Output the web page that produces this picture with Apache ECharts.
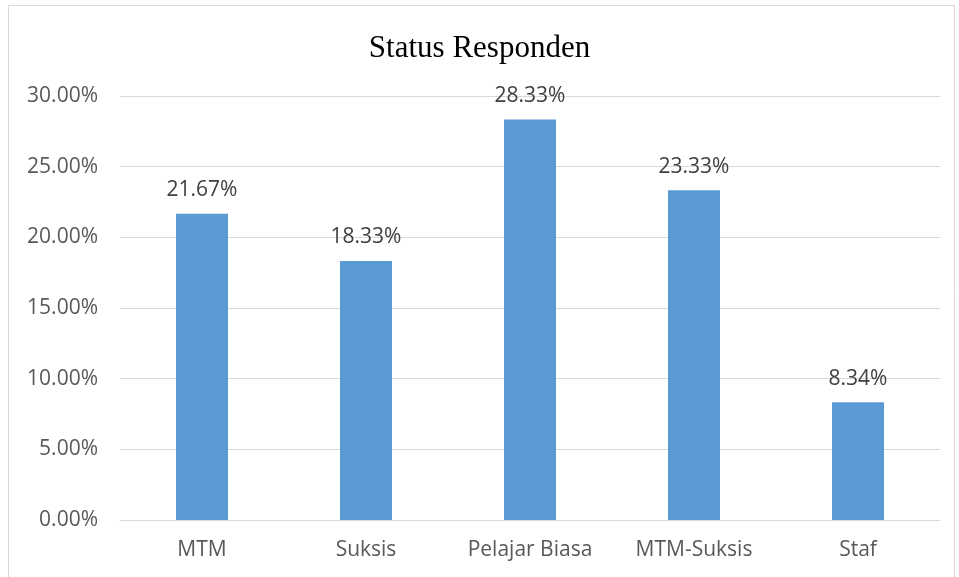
<!DOCTYPE html>
<html>
<head>
<meta charset="utf-8">
<script src="https://cdn.jsdelivr.net/npm/echarts@6/dist/echarts.min.js"></script>
<style>
  html, body { margin: 0; padding: 0; background: #fff; }
  #chart { width: 959px; height: 577px; }
</style>
</head>
<body>
<div id="chart"></div>
<script>
// data
var categories = ['MTM', 'Suksis', 'Pelajar Biasa', 'MTM-Suksis', 'Staf'];
var values = [21.67, 18.33, 28.33, 23.33, 8.34];

var chart = echarts.init(document.getElementById('chart'));
var option = {
  animation: false,
  title: {
    text: 'Status Responden',
    left: 'center',
    top: 28,
    textStyle: { fontFamily: 'Liberation Serif', fontSize: 31, fontWeight: 'normal', color: '#000' }
  },
  graphic: [{
    type: 'rect',
    shape: { x: 8.5, y: 5.5, width: 946, height: 600 },
    style: { fill: 'none', stroke: '#d9d9d9', lineWidth: 1 },
    silent: true
  }],
  grid: { left: 120, right: 19, top: 96, bottom: 57 },
  xAxis: {
    type: 'category',
    data: categories,
    axisLine: { lineStyle: { color: '#d9d9d9', width: 1 } },
    axisTick: { show: false },
    axisLabel: { color: '#595959', fontSize: 21, fontFamily: 'Open Sans', margin: 20 }
  },
  yAxis: {
    type: 'value',
    min: 0, max: 30, interval: 5,
    axisLine: { show: false },
    axisTick: { show: false },
    splitLine: { lineStyle: { color: '#d9d9d9', width: 1 } },
    axisLabel: {
      color: '#595959', fontSize: 21, fontFamily: 'Open Sans', margin: 22,
      formatter: function (v) { return v.toFixed(2) + '%'; }
    }
  },
  series: [{
    type: 'bar',
    data: values,
    barWidth: 52,
    itemStyle: { color: '#5b9bd5' },
    label: {
      show: true,
      position: 'top',
      distance: 13,
      color: '#404040',
      fontSize: 21,
      fontFamily: 'Open Sans',
      formatter: function (p) { return p.value.toFixed(2) + '%'; }
    }
  }]
};
chart.setOption(option);
</script>
</body>
</html>
